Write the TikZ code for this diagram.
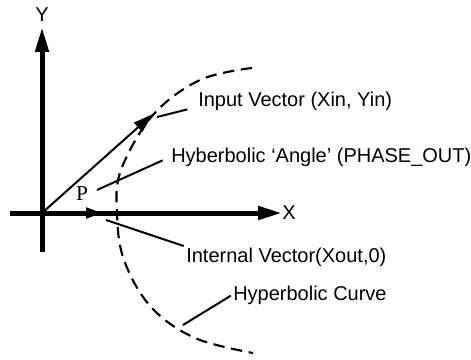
\documentclass[tikz,border=0pt]{standalone}
\usepackage{fontspec}
\setmainfont{Liberation Sans}
\newfontfamily\seriffont{Liberation Serif}
\usetikzlibrary{arrows.meta}

\begin{document}
\begin{tikzpicture}[x=0.75pt,y=0.75pt,yscale=-1,xscale=1,
  axis/.style={line width=3.75pt},
  vec/.style={line width=1.5pt},
  leader/.style={line width=1.5pt},
  hypcurve/.style={line width=1.6pt, dash pattern=on 8.5pt off 5pt},
  lbl/.style={inner sep=0.75pt, font=\fontsize{15}{18}\selectfont}]
%set diagram size
\path[use as bounding box] (0,0) rectangle (471,360);

% Points
\coordinate (O) at (42,213);
\coordinate (Ybot) at (42,252);
\coordinate (Ytip) at (42,27);
\coordinate (Xleft) at (10,213);
\coordinate (Xtip) at (282,213);
\coordinate (Vin) at (153,114);
\coordinate (Vout) at (102,213);

%Curve Lines
\draw [hypcurve] plot [smooth, tension=0.6] coordinates {(252,68) (200,80) (153,115) (121,170) (117,213) (124,260) (151,307) (195,338) (253,353)};

%Straight Lines
\draw [axis, -{Triangle[length=18.75pt,width=9.75pt]}] (Ybot) -- (Ytip);
%Straight Lines
\draw [axis, -{Triangle[length=18pt,width=9.75pt]}] (Xleft) -- (Xtip);
%Straight Lines
\draw [vec, -{Triangle[length=15pt,width=9pt]}] (O) -- (Vin);
%Straight Lines
\draw [vec, -{Triangle[length=12pt,width=8.25pt]}] (O) -- (Vout);

% Text Node
\draw (42,15) node (ylab) [lbl] {Y};
% Text Node
\draw (289,213) node (xlab) [lbl] {X};
% Text Node
\draw (82,194) node (plab) [inner sep=0.75pt, font=\seriffont\fontsize{16}{19}\selectfont] {P};
% Text Node
\draw (197,107) node (inp) [lbl, anchor=base west] {Input Vector (Xin, Yin)};
% Text Node
\draw (170,157) node (ang) [lbl, anchor=west] {Hyberbolic ‘Angle’ (PHASE\_OUT)};
% Text Node
\draw (185,257) node (intv) [lbl, anchor=west] {Internal Vector(Xout,0)};
% Text Node
\draw (232,295) node (crv) [lbl, anchor=west] {Hyperbolic Curve};

% Leaders
\coordinate (inA) at (157,117);
\coordinate (angA) at (97,190);
\coordinate (intA) at (106,220);
\coordinate (crvA) at (183,325);
\draw [leader, shorten >=7.5pt] (inA) -- (inp.base west);
\draw [leader, shorten >=6pt] (angA) -- (ang.west);
\draw [leader, shorten >=1pt] (intA) -- (intv.north west);
\draw [leader, shorten >=1pt] (crvA) -- (crv.west);

\end{tikzpicture}
\end{document}
